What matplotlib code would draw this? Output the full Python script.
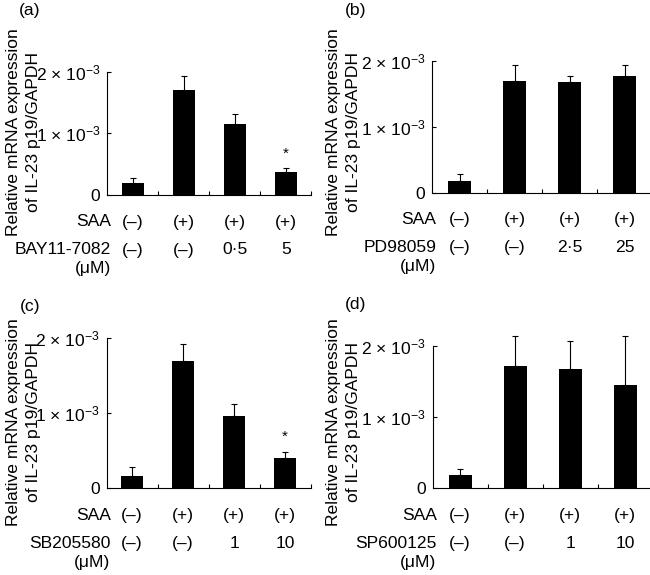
import numpy as np
import matplotlib
matplotlib.use('Agg')
import matplotlib.pyplot as plt

plt.rcParams['font.family'] = ['Liberation Sans', 'DejaVu Sans']
plt.rcParams['mathtext.fontset'] = 'custom'
plt.rcParams['mathtext.rm'] = 'Liberation Sans'
plt.rcParams['mathtext.it'] = 'Liberation Sans:italic'
plt.rcParams['font.size'] = 12.6

# data (values in units of 1e-3)
saa_row = ['(–)', '(+)', '(+)', '(+)']
panel_names = ['(a)', '(b)', '(c)', '(d)']
inhibitors = ['BAY11-7082', 'PD98059', 'SB205580', 'SP600125']
doses_a = ['(–)', '(–)', '0·5', '5']
doses_b = ['(–)', '(–)', '2·5', '25']
doses_c = ['(–)', '(–)', '1', '10']
doses_d = ['(–)', '(–)', '1', '10']
mean_a = [0.19, 1.71, 1.15, 0.37]
err_a = [0.09, 0.22, 0.16, 0.06]
mean_b = [0.18, 1.70, 1.67, 1.77]
err_b = [0.10, 0.23, 0.10, 0.16]
mean_c = [0.17, 1.70, 0.96, 0.41]
err_c = [0.11, 0.23, 0.16, 0.07]
mean_d = [0.18, 1.71, 1.68, 1.45]
err_d = [0.09, 0.42, 0.39, 0.68]
star_a = [False, False, False, True]
star_b = [False, False, False, False]
star_c = [False, False, False, True]
star_d = [False, False, False, False]
ytick_vals = [0, 1e-3, 2e-3]
ytick_labels = ['0', '1 × 10$^{-3}$', '2 × 10$^{-3}$']
ylabel_lines = ['Relative mRNA expression', 'of IL-23 p19/GAPDH']

W, H = 650, 575
fig = plt.figure(figsize=(W / 100, H / 100), dpi=100)

panels = [
    # left, top, right, bottom (pixels), label pos, ylabel x / y centre
    ((107.3, 71.7, 311.3, 195.0), (30, 10), (13.5, 132),
     mean_a, err_a, doses_a, star_a),
    ((432.3, 60.7, 652.3, 192.7), (356, 10), (333.5, 132),
     mean_b, err_b, doses_b, star_b),
    ((106.7, 338.3, 310.7, 488.3), (30, 306), (13.5, 422),
     mean_c, err_c, doses_c, star_c),
    ((432.7, 345.7, 652.7, 488.3), (356, 305), (333.5, 422),
     mean_d, err_d, doses_d, star_d),
]

x = np.arange(4)
for i, (box, lab_pos, yl_pos, mean, err, doses, star) in enumerate(panels):
    l, t, r, b = box
    ax = fig.add_axes([l / W, 1 - b / H, (r - l) / W, (b - t) / H])
    m = np.array(mean) * 1e-3
    e = np.array(err) * 1e-3
    ax.bar(x, m, width=0.42, color='black', zorder=2)
    ax.errorbar(x, m, yerr=[np.zeros(4), e], fmt='none', ecolor='black',
                elinewidth=0.8, capsize=2.2, capthick=0.8, clip_on=False, zorder=1)
    for j in range(4):
        if star[j]:
            ax.text(x[j], m[j] + e[j] + 0.00012, '*', ha='center', va='bottom', fontsize=11)
    ax.set_xlim(-0.5, 3.5)
    ax.set_ylim(0, 2e-3)
    ax.spines['top'].set_visible(False)
    ax.spines['right'].set_visible(False)
    ax.spines['left'].set_linewidth(0.8)
    ax.spines['bottom'].set_linewidth(0.8)
    ax.set_xticks([0.5, 1.5, 2.5, 3.5])
    ax.set_xticklabels([])
    ax.set_yticks(ytick_vals)
    ax.set_yticklabels(ytick_labels)
    ax.tick_params(axis='both', direction='in', length=3, width=0.8, pad=5)
    ax.patch.set_visible(False)

    for j in range(4):
        ax.annotate(saa_row[j], xy=(x[j], 0), xycoords=('data', 'axes fraction'),
                    xytext=(0, -27), textcoords='offset pixels', ha='center', va='center')
        ax.annotate(doses[j], xy=(x[j], 0), xycoords=('data', 'axes fraction'),
                    xytext=(0, -55), textcoords='offset pixels', ha='center', va='center')
    ax.annotate('SAA', xy=(-0.5, 0), xycoords=('data', 'axes fraction'),
                xytext=(4, -27), textcoords='offset pixels', ha='right', va='center')
    ax.annotate(inhibitors[i], xy=(-0.5, 0), xycoords=('data', 'axes fraction'),
                xytext=(4, -55), textcoords='offset pixels', ha='right', va='center')
    ax.annotate('(μM)', xy=(-0.5, 0), xycoords=('data', 'axes fraction'),
                xytext=(4, -74), textcoords='offset pixels', ha='right', va='center')

    fig.text(lab_pos[0] / W, 1 - lab_pos[1] / H, panel_names[i], ha='center', va='center')
    for k, line in enumerate(ylabel_lines):
        fig.text((yl_pos[0] + 20 * k) / W, 1 - yl_pos[1] / H, line, rotation=90,
                 ha='center', va='center')

fig.savefig('out.png', dpi=100)
